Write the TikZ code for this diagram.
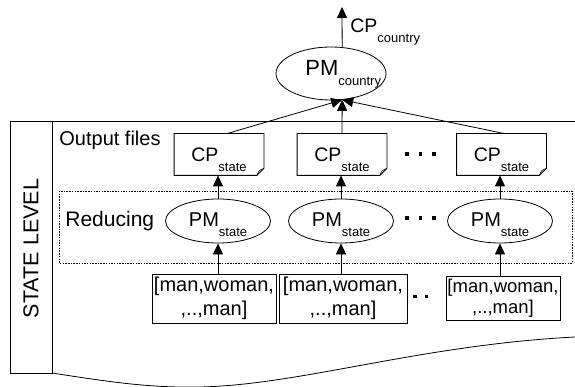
\documentclass[tikz,border=0pt]{standalone}
\usepackage{fontspec}
\setmainfont{Liberation Sans}
\usetikzlibrary{arrows.meta,shapes.geometric}
\newcommand{\fsz}[1]{\fontsize{#1}{#1}\selectfont}
% lowered subscript in a smaller size
\newcommand{\lowsub}[2]{\raisebox{-#1}{\fsz{13}#2}}
\begin{document}
\begin{tikzpicture}[x=1pt,y=-1pt,line width=0.8pt,
  arr/.style={-{Triangle[length=11pt,width=10pt]}},
  pmstate/.style={draw,ellipse,minimum width=105pt,minimum height=44pt,inner sep=0pt},
  cpbox/.style={rectangle,minimum width=89pt,minimum height=41pt,inner sep=0pt},
  listbox/.style={draw,rectangle,inner sep=0pt,align=center},
  lbl/.style={inner sep=0pt},
  dotmark/.style={fill=black}]
\useasboundingbox (0,0) rectangle (575,387);

% frame of the state level
\draw (10,121) -- (575,121);
\draw (10,121) rectangle (52,373);
\draw (52,373) .. controls (110,382) and (150,388) .. (200,387)
      .. controls (300,385) and (420,345) .. (575,337);
\node[lbl,rotate=90,font=\fsz{21.5}] (level) at (31,248.5) {STATE LEVEL};

% reducing stage
\draw[line width=0.6pt,dash pattern=on 1.5pt off 1.2pt] (59,191) rectangle (572,263);
\node[lbl,anchor=base west,font=\fsz{21}] (redlbl) at (65,226) {Reducing};
\node[lbl,anchor=base west,font=\fsz{20}] (outlbl) at (59,146) {Output files};

% country level mapping
\node[draw,ellipse,minimum width=110pt,minimum height=53pt,inner sep=0pt] (pmc) at (331,73.5) {};
\node[lbl,anchor=base west,font=\fsz{22}] (pmctext) at (305,76) {PM\lowsub{10pt}{country}};
\coordinate (cpout) at (342,7);
\draw[arr] (pmc.67) -- (cpout);
\node[lbl,anchor=base west,font=\fsz{19.5}] (cpctext) at (350,33) {CP\lowsub{10pt}{country}};

% output files (notes with folded corner)
\node[cpbox] (cpA) at (219,154.5) {};
\node[cpbox] (cpB) at (342,154.5) {};
\node[cpbox] (cpC) at (501.5,154.5) {};
\foreach \n in {cpA,cpB,cpC}{
  \draw (\n.north west) -- (\n.north east) -- ([yshift=7pt]\n.south east)
        -- ([xshift=-7pt]\n.south east) -- (\n.south west) -- cycle;
  \draw[line width=0.6pt] ([xshift=-7pt]\n.south east) .. controls ([xshift=-5pt,yshift=5pt]\n.south east)
        .. ([yshift=7pt]\n.south east);
  \node[lbl,anchor=base,font=\fsz{19.5}] (\n-t) at ([yshift=-7.5pt]\n.center) {CP\lowsub{9.5pt}{state}};
}

% reducers
\node[pmstate] (pmA) at (218,221) {};
\node[pmstate] (pmB) at (341,221) {};
\node[pmstate] (pmC) at (500,221) {};
\foreach \n in {pmA,pmB,pmC}{
  \node[lbl,anchor=base,font=\fsz{20}] (\n-t) at ([yshift=-5pt]\n.center) {PM\lowsub{10.5pt}{state}};
}

% mapped lists
\node[listbox,minimum width=124pt,minimum height=49pt,font=\fsz{20}] (lsA) at (214,298.5)
  {[man,woman,\\[4pt],..,man]};
\node[listbox,minimum width=128pt,minimum height=49pt,font=\fsz{20}] (lsB) at (343,298.5)
  {[man,woman,\\[4pt],..,man]};
\node[listbox,minimum width=114pt,minimum height=44pt,font=\fsz{18.5}] (lsC) at (503,298)
  {[man,woman,\\[2.5pt],..,man]};

% ellipsis marks
\foreach \x in {405,418.5,432}{
  \fill[dotmark] (\x,152.5) rectangle +(3.5,3.5);
  \fill[dotmark] (\x,216.5) rectangle +(3.5,3.5);
}
\fill[dotmark] (413,294.5) rectangle +(3.5,3.5);
\fill[dotmark] (425,295) rectangle +(3,3);

% connectors
\foreach \l/\p in {lsA/pmA,lsB/pmB,lsC/pmC}{
  \draw[arr] (\p.south |- \l.north) -- (\p.south);
}
\foreach \p/\c in {pmA/cpA,pmB/cpB,pmC/cpC}{
  \draw[arr] (\p.north) -- (\p.north |- \c.south);
}
\draw[arr] ([xshift=8pt]cpA.north) -- (pmc.-67);
\draw[arr] (cpB.north) -- (pmc.-67);
\draw[arr] ([xshift=3pt]cpC.north) -- (pmc.-67);
\end{tikzpicture}
\end{document}
